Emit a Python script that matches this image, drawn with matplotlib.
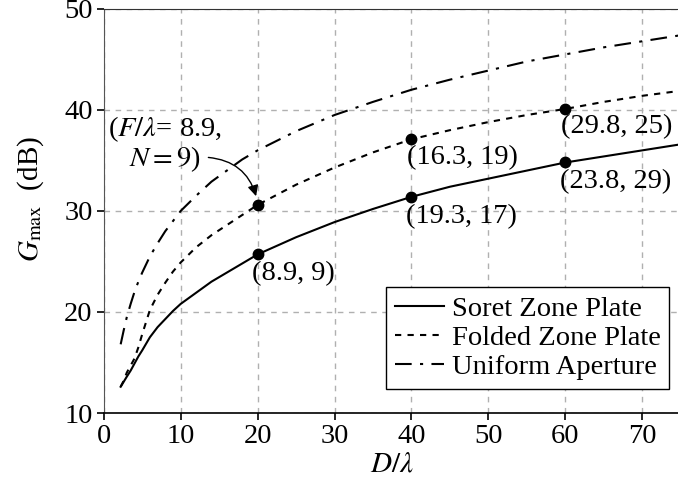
import numpy as np
import matplotlib
matplotlib.use("Agg")
import matplotlib.pyplot as plt

plt.rcParams['font.family'] = ['Liberation Serif', 'DejaVu Serif']
plt.rcParams['mathtext.fontset'] = 'stix'

# values
d_lambda = [2.2, 2.6, 3, 3.5, 4, 4.5, 5, 6, 7, 8, 9, 10, 12, 14, 16, 18, 20, 25, 30, 35,
            40, 45, 50, 55, 60, 65, 70, 75]
soret = [12.6, 13.1, 13.6, 14.2, 14.9, 15.6, 16.2, 17.5, 18.5, 19.3, 20.1, 20.8, 21.9,
         23.0, 23.9, 24.8, 25.7, 27.4, 28.9, 30.2, 31.4, 32.4, 33.2, 34.0, 34.8, 35.4,
         36.0, 36.6]
folded = [12.6, 13.2, 14.0, 14.7, 15.4, 16.5, 17.8, 20.2, 21.7, 22.9, 24.0, 24.9, 26.4,
          27.6, 28.6, 29.6, 30.6, 32.6, 34.3, 35.8, 37.1, 38.0, 38.8, 39.5, 40.1, 40.8,
          41.4, 41.9]
uniform = [16.8, 18.2, 19.5, 20.8, 22.0, 23.0, 23.9, 25.5, 26.8, 28.0, 29.0, 30.0, 31.5,
           32.9, 34.0, 35.1, 36.0, 37.9, 39.5, 40.8, 42.0, 43.0, 43.9, 44.8, 45.5, 46.2,
           46.8, 47.4]

# designs marked on the curves
mark_x = [20, 40, 60]
soret_marks = [25.7, 31.4, 34.8]
soret_labels = ['(8.9, 9)', '(19.3, 17)', '(23.8, 29)']
folded_marks = [30.6, 37.1, 40.1]
folded_labels = [None, '(16.3, 19)', '(29.8, 25)']

fs = 20.5

fig = plt.figure(figsize=(6.78, 4.97), dpi=100)
ax = fig.add_axes([0.153, 0.169, 0.851, 0.813])

ax.plot(d_lambda, soret, color='black', lw=1.5, label='Soret Zone Plate')
ax.plot(d_lambda, folded, color='black', lw=1.5, dashes=(3, 3), label='Folded Zone Plate')
ax.plot(d_lambda, uniform, color='black', lw=1.5, dashes=(8, 4, 1.5, 4), label='Uniform Aperture')

ax.plot(mark_x, soret_marks, 'o', color='black', ms=7.5)
ax.plot(mark_x, folded_marks, 'o', color='black', ms=7.5)

for x, y, s in zip(mark_x, soret_marks, soret_labels):
    ax.annotate(s, (x, y), xytext=(-4, -5), textcoords='offset points',
                ha='left', va='top', fontsize=fs)
for x, y, s in zip(mark_x, folded_marks, folded_labels):
    if s:
        ax.annotate(s, (x, y), xytext=(-3, -4), textcoords='offset points',
                    ha='left', va='top', fontsize=fs)

ax.text(7.9, 36.6, '($F/\\lambda$= 8.9,\n$N = 9$)', fontsize=fs, ha='center', va='center',
        multialignment='center', linespacing=1.0)
ax.annotate('', xy=(19.9, 31.2), xytext=(13.6, 35.3),
            arrowprops=dict(arrowstyle='-|>', color='black', lw=1,
                            shrinkA=0, shrinkB=2, mutation_scale=16,
                            connectionstyle='arc3,rad=-0.35'))

ax.set_xlim(0, 75)
ax.set_ylim(10, 50)
ax.set_xticks(range(0, 71, 10))
ax.set_yticks(range(10, 51, 10))
ax.tick_params(labelsize=fs, direction='out', length=5, width=1.2, color='black', pad=3)
ax.grid(True, color='#b0b0b0', ls=(0, (4, 4)), lw=1)
ax.spines['right'].set_visible(False)
ax.spines['left'].set_color('#555555')
ax.spines['top'].set_color('#333333')
ax.spines['bottom'].set_linewidth(1.2)

ax.set_xlabel('$D/\\lambda$', fontsize=21, labelpad=2)
ax.set_ylabel('$G_{\\mathrm{max}}$  (dB)', fontsize=21, labelpad=8)
ax.yaxis.set_label_coords(-0.1, 0.53)

leg = ax.legend(loc='lower right', bbox_to_anchor=(669 / 678, 1 - 389 / 497),
                bbox_transform=fig.transFigure, fontsize=fs, fancybox=False,
                edgecolor='black', framealpha=1, borderaxespad=0, handlelength=1.75,
                labelspacing=0.12, borderpad=0.3, handletextpad=0.25)
leg.get_frame().set_linewidth(1)

fig.savefig('out.png', dpi=100)
